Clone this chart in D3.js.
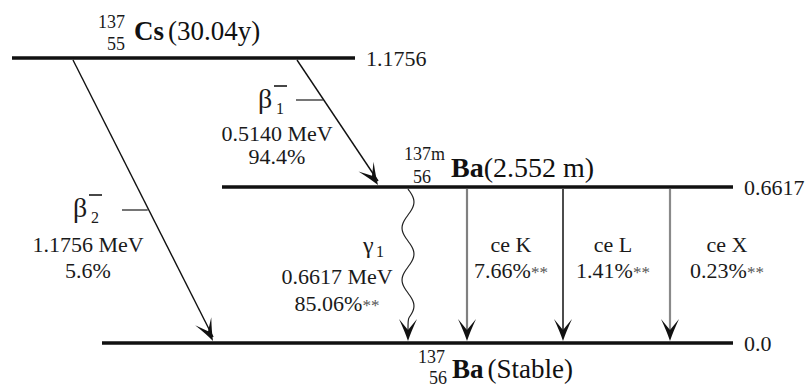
<!DOCTYPE html>
<html lang="en">
<head>
<meta charset="UTF-8">
<title>137Cs decay scheme</title>
<script src="https://cdn.jsdelivr.net/npm/d3@7"></script>
<style>
html,body{margin:0;background:#fff;}
svg{display:block;font-family:"Liberation Serif","DejaVu Serif",serif;}
</style>
</head>
<body>
<script>
// energy levels (MeV)
const levelEnergy = [1.1756, 0.6617, 0.0];
const levelLabel = ['1.1756', '0.6617', '0.0'];

// nuclide sitting on each level
const nucMass = ['137', '137m', '137'];
const nucZ = ['55', '56', '56'];
const nucSymbol = ['Cs', 'Ba', 'Ba'];
const nucState = ['(30.04y)', '(2.552 m)', '(Stable)'];

// transitions
const transKind = ['beta', 'beta', 'gamma', 'ce', 'ce', 'ce'];
const transSymbol = ['β', 'β', 'γ', 'ce K', 'ce L', 'ce X'];
const transIndex = ['2', '1', '1', '', '', ''];
const transFrom = [0, 0, 1, 1, 1, 1];
const transTo = [2, 1, 2, 2, 2, 2];
const transEnergy = ['1.1756 MeV', '0.5140 MeV', '0.6617 MeV', '', '', ''];
const transIntensity = ['5.6%', '94.4%', '85.06%', '7.66%', '1.41%', '0.23%'];
const transNote = ['', '', '**', '**', '**', '**'];

const W = 807, H = 388;
const svg = d3.select('body').append('svg').attr('width', W).attr('height', H);

const y = d3.scaleLinear().domain(levelEnergy).range([58, 187, 343]);

// horizontal extent of each level line
const levelX = [[12, 355], [222, 733], [102, 733]];
// x at start / end of each transition
const transX = [[73, 213], [297, 378], [408, 408], [467, 467], [563, 563], [670, 670]];
// label placement for each transition
const labelPos = [
    {sx: 73, sy: 217, cx: 88, ey: 252, iy: 278, tick: [122, 210]},
    {sx: 258, sy: 108, cx: 277, ey: 141, iy: 164, tick: [296, 100]},
    {sx: 363, sy: 253, cx: 337, ey: 284, iy: 311},
    {cx: 511, sy: 252, iy: 278},
    {cx: 613, sy: 252, iy: 278},
    {cx: 727, sy: 252, iy: 278}
];
const transColor = ['#111', '#111', '#222', '#808080', '#111', '#8a8a8a'];
const transWidth = [1.4, 1.4, 1.2, 2.2, 1.5, 2.2];
const ink = '#1a1a1a';

// level lines
svg.selectAll('line.level')
    .data(levelEnergy)
    .join('line')
    .attr('class', 'level')
    .attr('x1', (d, i) => levelX[i][0])
    .attr('x2', (d, i) => levelX[i][1])
    .attr('y1', d => y(d))
    .attr('y2', d => y(d))
    .attr('stroke', '#111')
    .attr('stroke-width', 3.5);

svg.selectAll('text.levelLabel')
    .data(levelLabel)
    .join('text')
    .attr('class', 'levelLabel')
    .attr('x', (d, i) => levelX[i][1] + 11)
    .attr('y', (d, i) => y(levelEnergy[i]) + 8)
    .attr('font-size', 22)
    .attr('fill', ink)
    .text(d => d);

// nuclide names
const nucPos = [
    {mx: 125, my: 28, zx: 125, zy: 50, x: 134, y: 40, fs: 27},
    {mx: 445, my: 160, zx: 431, zy: 183, x: 451, y: 177, fs: 28},
    {mx: 445, my: 363, zx: 447, zy: 384, x: 452, y: 378, fs: 27}
];
nucSymbol.forEach((s, i) => {
    const p = nucPos[i];
    svg.append('text').attr('x', p.mx).attr('y', p.my)
        .attr('text-anchor', 'end').attr('font-size', 18).attr('fill', ink)
        .text(nucMass[i]);
    svg.append('text').attr('x', p.zx).attr('y', p.zy)
        .attr('text-anchor', 'end').attr('font-size', 18).attr('fill', ink)
        .text(nucZ[i]);
    const t = svg.append('text').attr('x', p.x).attr('y', p.y)
        .attr('font-size', p.fs).attr('fill', '#111');
    t.append('tspan').attr('font-weight', 'bold').text(s);
    t.append('tspan').attr('dx', i === 1 ? 0 : 4).text(nucState[i]);
});

function arrowHead(x1, y1, x2, y2, color) {
    const a = Math.atan2(y2 - y1, x2 - x1) * 180 / Math.PI;
    svg.append('path')
        .attr('d', 'M0,0 Q-9,-3 -22,-9 L-11,0 L-22,9 Q-9,3 0,0 Z')
        .attr('transform', `translate(${x2},${y2}) rotate(${a})`)
        .attr('fill', color);
}

transKind.forEach((k, i) => {
    const x1 = transX[i][0], x2 = transX[i][1];
    const y1 = y(levelEnergy[transFrom[i]]) + 2;
    const y2 = y(levelEnergy[transTo[i]]) - 2;
    if (k === 'gamma') {
        // wavy gamma line
        const pts = [];
        for (let yy = y1; yy <= y2 - 22; yy += 2) {
            pts.push([x1 + 6 * Math.sin((yy - y1) / 52 * 2 * Math.PI), yy]);
        }
        pts.push([x2, y2 - 8]);
        svg.append('path')
            .attr('d', d3.line().curve(d3.curveBasis)(pts))
            .attr('fill', 'none')
            .attr('stroke', transColor[i])
            .attr('stroke-width', transWidth[i]);
        arrowHead(x2, y2 - 10, x2, y2, '#111');
    } else {
        svg.append('line')
            .attr('x1', x1).attr('y1', y1)
            .attr('x2', x2).attr('y2', y2 - 4)
            .attr('stroke', transColor[i])
            .attr('stroke-width', transWidth[i]);
        arrowHead(x1, y1, x2, y2, '#111');
    }

    const p = labelPos[i];
    if (k === 'ce') {
        svg.append('text').attr('x', p.cx).attr('y', p.sy)
            .attr('text-anchor', 'middle').attr('font-size', 22).attr('fill', ink)
            .text(transSymbol[i]);
    } else {
        svg.append('text').attr('x', p.sx).attr('y', p.sy)
            .attr('font-size', k === 'beta' ? 28 : 24).attr('fill', ink)
            .text(transSymbol[i]);
        svg.append('text')
            .attr('x', p.sx + (k === 'beta' ? 18 : 13))
            .attr('y', p.sy + (k === 'beta' ? 6 : 4))
            .attr('font-size', 16).attr('fill', ink)
            .text(transIndex[i]);
        if (k === 'beta') {
            svg.append('line')
                .attr('x1', p.sx + 16).attr('x2', p.sx + 29)
                .attr('y1', p.sy - 22).attr('y2', p.sy - 22)
                .attr('stroke', ink).attr('stroke-width', 1.6);
            // tick from label to arrow
            const tx = x1 + (x2 - x1) * (p.tick[1] - y1) / (y2 - y1);
            svg.append('line')
                .attr('x1', p.tick[0]).attr('x2', tx)
                .attr('y1', p.tick[1]).attr('y2', p.tick[1])
                .attr('stroke', ink).attr('stroke-width', 1.2);
        }
        svg.append('text').attr('x', p.cx).attr('y', p.ey)
            .attr('text-anchor', 'middle').attr('font-size', 22).attr('fill', ink)
            .text(transEnergy[i]);
    }
    const it = svg.append('text').attr('x', p.cx).attr('y', p.iy)
        .attr('text-anchor', 'middle').attr('font-size', 22).attr('fill', ink);
    it.append('tspan').text(transIntensity[i]);
    if (transNote[i]) it.append('tspan').attr('font-size', 17).attr('fill', '#555').text(transNote[i]);
});
</script>
</body>
</html>
